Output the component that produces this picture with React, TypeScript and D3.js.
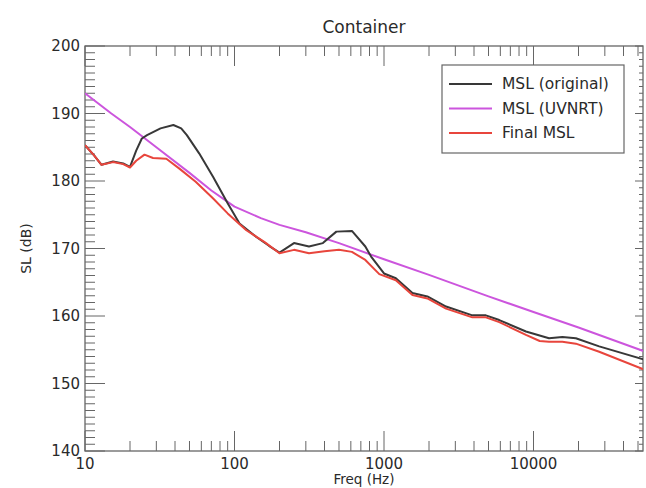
import React from "react";
import * as d3 from "d3";

const title = "Container";
const xLabel = "Freq (Hz)";
const yLabel = "SL (dB)";
const xTickValues = [10, 100, 1000, 10000];
const yTickValues = [140, 150, 160, 170, 180, 190, 200];
const legendNames = ["MSL (original)", "MSL (UVNRT)", "Final MSL"];

const origFreq = [10, 11.5, 12.9, 15.4, 18, 20, 22, 24, 26, 32, 39, 44, 48, 58, 72, 90, 108, 140, 170, 200, 250, 315, 390, 480, 610, 750, 820, 1000, 1200, 1550, 1950, 2600, 3900, 4800, 5900, 8900, 12700, 15600, 19200, 27500, 56000];
const origSL = [185.3, 183.8, 182.4, 182.9, 182.6, 182.1, 184.5, 186.3, 186.8, 187.8, 188.3, 187.8, 186.8, 184.1, 180.6, 176.7, 173.7, 171.7, 170.4, 169.4, 170.8, 170.3, 170.8, 172.5, 172.6, 170.3, 168.8, 166.3, 165.6, 163.4, 162.9, 161.4, 160.1, 160.1, 159.4, 157.7, 156.7, 156.9, 156.7, 155.5, 153.5];

const uvFreq = [10, 15, 20, 30, 50, 70, 100, 150, 200, 300, 500, 1000, 2000, 5000, 10000, 20000, 56000];
const uvSL = [193.0, 190.0, 188.0, 185.0, 181.2, 178.6, 176.2, 174.5, 173.5, 172.4, 170.8, 168.4, 166.1, 162.9, 160.6, 158.3, 154.7];

const finalFreq = [10, 11.5, 12.9, 15.4, 18, 20, 22, 25, 28.5, 35, 43, 55, 72, 90, 120, 160, 200, 250, 315, 400, 500, 610, 750, 930, 1200, 1550, 1950, 2600, 3900, 4800, 5900, 8900, 11000, 12700, 15600, 19200, 27500, 56000];
const finalSL = [185.3, 183.8, 182.4, 182.8, 182.5, 182.0, 183.0, 183.9, 183.4, 183.3, 181.8, 179.9, 177.4, 175.2, 172.7, 170.9, 169.3, 169.8, 169.3, 169.6, 169.8, 169.5, 168.3, 166.2, 165.3, 163.1, 162.6, 161.1, 159.8, 159.8, 159.1, 157.2, 156.3, 156.2, 156.2, 155.9, 154.7, 152.0];

const W = 646, H = 488;
const left = 85, right = 643, top = 46, bottom = 451;

export default function App() {
  const x = d3.scaleLog().domain([10, 54000]).range([left, right]);
  const y = d3.scaleLinear().domain([140, 200]).range([bottom, top]);
  const line = d3.line<[number, number]>().x(d => x(d[0])).y(d => y(d[1]));
  const series = [
    { name: legendNames[0], color: "#383838", pts: origFreq.map((f, i) => [f, origSL[i]] as [number, number]) },
    { name: legendNames[1], color: "#cc55dd", pts: uvFreq.map((f, i) => [f, uvSL[i]] as [number, number]) },
    { name: legendNames[2], color: "#e8453c", pts: finalFreq.map((f, i) => [f, finalSL[i]] as [number, number]) },
  ];
  const drawOrder = [1, 0, 2];
  const xMinor: number[] = [];
  for (let dec = 10; dec <= 10000; dec *= 10) {
    for (let k = 2; k <= 9; k++) if (dec * k <= 54000) xMinor.push(dec * k);
  }
  const yMinor = d3.range(140, 201, 1).filter(v => v % 10 !== 0);
  const axisColor = "#666";
  const textColor = "#2a2a2a";
  const font = "DejaVu Sans, sans-serif";
  return (
    <svg width={W} height={H} style={{ position: "absolute", left: 0, top: 0, background: "#fff" }} fontFamily={font}>
      <defs>
        <clipPath id="plotclip">
          <rect x={left} y={top} width={right - left} height={bottom - top} />
        </clipPath>
      </defs>
      <rect x={0} y={0} width={W} height={H} fill="#fff" />
      <text x={(left + right) / 2} y={33} textAnchor="middle" fontSize={17} fill={textColor}>{title}</text>
      {/* frame */}
      <rect x={left} y={top} width={right - left} height={bottom - top} fill="none" stroke={axisColor} strokeWidth={1.3} />
      {/* x ticks */}
      {xTickValues.map(v => (
        <g key={"xt" + v}>
          <line x1={x(v)} x2={x(v)} y1={bottom} y2={bottom - 20} stroke={axisColor} />
          <line x1={x(v)} x2={x(v)} y1={top} y2={top + 20} stroke={axisColor} />
          <text x={x(v)} y={469} textAnchor="middle" fontSize={15} fill={textColor}>{v}</text>
        </g>
      ))}
      {xMinor.map(v => (
        <g key={"xm" + v}>
          <line x1={x(v)} x2={x(v)} y1={bottom} y2={bottom - 10} stroke={axisColor} />
          <line x1={x(v)} x2={x(v)} y1={top} y2={top + 10} stroke={axisColor} />
        </g>
      ))}
      {/* y ticks */}
      {yTickValues.map(v => (
        <g key={"yt" + v}>
          <line x1={left} x2={left + 20} y1={y(v)} y2={y(v)} stroke={axisColor} />
          <line x1={right} x2={right - 8} y1={y(v)} y2={y(v)} stroke={axisColor} />
          <text x={80} y={y(v)} dy="0.35em" textAnchor="end" fontSize={15} fill={textColor}>{v}</text>
        </g>
      ))}
      {yMinor.map(v => (
        <g key={"ym" + v}>
          <line x1={left} x2={left + 10} y1={y(v)} y2={y(v)} stroke={axisColor} />
          <line x1={right} x2={right - 4} y1={y(v)} y2={y(v)} stroke={axisColor} />
        </g>
      ))}
      <text x={(left + right) / 2} y={484} textAnchor="middle" fontSize={13.5} fill={textColor}>{xLabel}</text>
      <text transform={`translate(31,${(top + bottom) / 2}) rotate(-90)`} textAnchor="middle" fontSize={14} fill={textColor}>{yLabel}</text>
      {/* series */}
      <g clipPath="url(#plotclip)">
        {drawOrder.map(i => (
          <path key={series[i].name} d={line(series[i].pts) || ""} fill="none" stroke={series[i].color} strokeWidth={2} strokeLinejoin="round" />
        ))}
      </g>
      {/* legend */}
      <rect x={442} y={65} width={182} height={88} fill="#fff" stroke={axisColor} strokeWidth={1.2} />
      {series.map((s, i) => (
        <g key={"lg" + i}>
          <line x1={449} x2={492} y1={84 + i * 24.5} y2={84 + i * 24.5} stroke={s.color} strokeWidth={2} />
          <text x={502} y={84 + i * 24.5} dy="0.35em" fontSize={15.5} fill={textColor}>{s.name}</text>
        </g>
      ))}
    </svg>
  );
}
